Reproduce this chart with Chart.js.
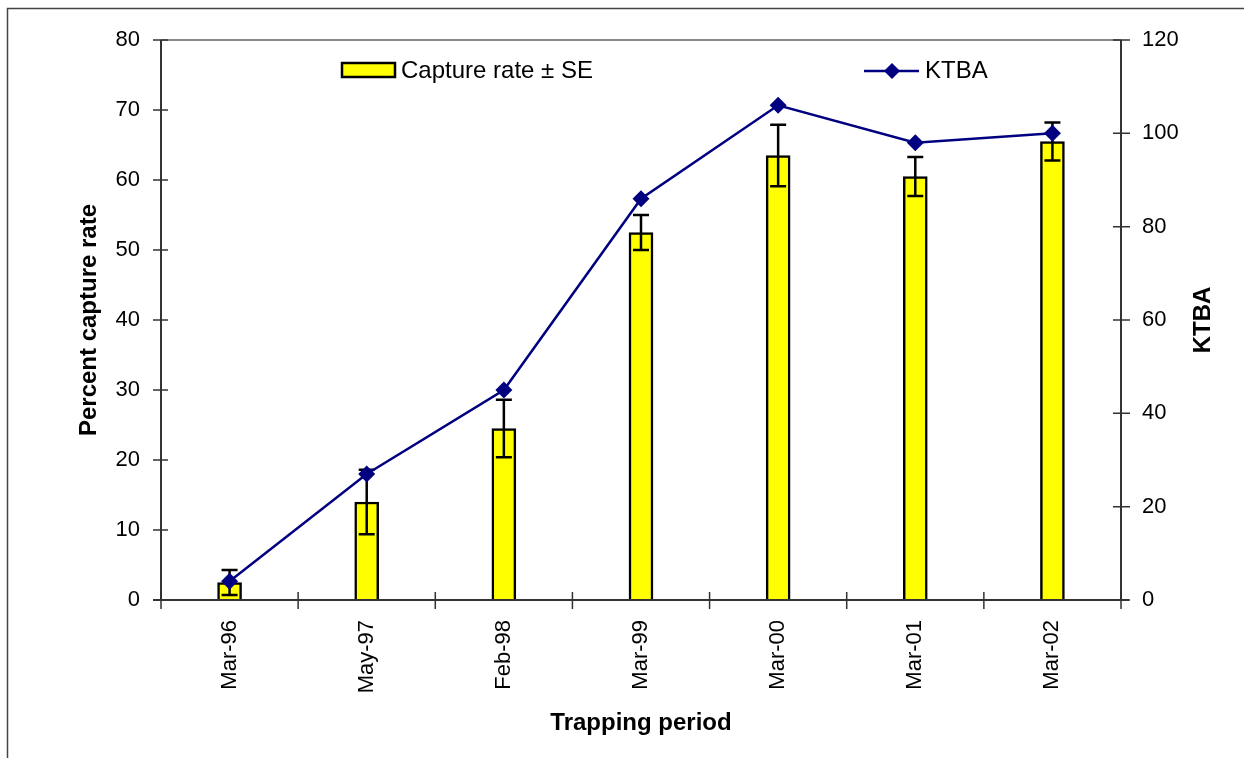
<!DOCTYPE html>
<html lang="en">
<head>
<meta charset="UTF-8">
<title>Capture rate and KTBA by trapping period</title>
<script src="https://cdn.jsdelivr.net/npm/chart.js"></script>
<style>
  body { margin: 0; background: #fff; }
  #wrap { width: 1244px; height: 758px; }
</style>
</head>
<body>
<div id="wrap"><canvas id="chart" width="1244" height="758"></canvas></div>
<script>
  // Data
  const periods = ['Mar-96', 'May-97', 'Feb-98', 'Mar-99', 'Mar-00', 'Mar-01', 'Mar-02'];
  const captureRate = [2.5, 14.0, 24.5, 52.5, 63.5, 60.5, 65.5];
  const captureSE = [1.8, 4.6, 4.1, 2.5, 4.4, 2.8, 2.7];
  const ktba = [4, 27, 45, 86, 106, 98, 100];
  const leftMax = 80, leftStep = 10;
  const rightMax = 120, rightStep = 20;

  const FONT = 'Arial, "Liberation Sans", sans-serif';
  const NAVY = '#000080';

  // error bars, axis lines, tick marks, titles and legend
  const decor = {
    id: 'decor',
    afterDatasetDraw(chart, args) {
      if (args.index !== 0) return;
      const ctx = chart.ctx, xs = chart.scales.x, ys = chart.scales.y;
      ctx.save();
      ctx.strokeStyle = '#000';
      ctx.lineWidth = 2.5;
      captureRate.forEach((v, i) => {
        const px = xs.getPixelForValue(i);
        const top = ys.getPixelForValue(v + captureSE[i]);
        const bot = ys.getPixelForValue(v - captureSE[i]);
        ctx.beginPath();
        ctx.moveTo(px, top); ctx.lineTo(px, bot);
        ctx.moveTo(px - 8, top); ctx.lineTo(px + 8, top);
        ctx.moveTo(px - 8, bot); ctx.lineTo(px + 8, bot);
        ctx.stroke();
      });
      ctx.restore();
    },
    afterDraw(chart) {
      const ctx = chart.ctx, a = chart.chartArea;
      const xs = chart.scales.x, ys = chart.scales.y, yr = chart.scales.y1;
      ctx.save();

      // outer frame (runs off the right and bottom edges)
      ctx.strokeStyle = '#444';
      ctx.lineWidth = 1.5;
      ctx.strokeRect(7.5, 8.5, 1300, 800);

      // plot top line
      ctx.strokeStyle = '#888';
      ctx.lineWidth = 2;
      ctx.beginPath();
      ctx.moveTo(a.left, a.top); ctx.lineTo(a.right, a.top);
      ctx.stroke();

      // axis lines
      ctx.strokeStyle = '#333';
      ctx.beginPath();
      ctx.moveTo(a.left, a.top); ctx.lineTo(a.left, a.bottom);
      ctx.moveTo(a.right, a.top); ctx.lineTo(a.right, a.bottom);
      ctx.moveTo(a.left - 8, a.bottom); ctx.lineTo(a.right + 8, a.bottom);
      ctx.stroke();

      // tick marks crossing the axes
      ctx.lineWidth = 1.5;
      ctx.beginPath();
      ys.ticks.forEach(t => {
        const py = ys.getPixelForValue(t.value);
        ctx.moveTo(a.left - 8, py); ctx.lineTo(a.left + 7, py);
      });
      yr.ticks.forEach(t => {
        const py = yr.getPixelForValue(t.value);
        ctx.moveTo(a.right - 8, py); ctx.lineTo(a.right + 9, py);
      });
      for (let i = 0; i <= periods.length; i++) {
        let px;
        if (i === 0) px = a.left;
        else if (i === periods.length) px = a.right;
        else px = (xs.getPixelForValue(i - 1) + xs.getPixelForValue(i)) / 2;
        ctx.moveTo(px, a.bottom - 8); ctx.lineTo(px, a.bottom + 9);
      }
      ctx.stroke();

      // axis titles
      ctx.fillStyle = '#000';
      ctx.font = 'bold 24px ' + FONT;
      ctx.textAlign = 'center';
      ctx.textBaseline = 'middle';
      ctx.fillText('Trapping period', (a.left + a.right) / 2, 723);
      ctx.save();
      ctx.translate(89, (a.top + a.bottom) / 2);
      ctx.rotate(-Math.PI / 2);
      ctx.fillText('Percent capture rate', 0, 0);
      ctx.restore();
      ctx.save();
      ctx.translate(1203, (a.top + a.bottom) / 2);
      ctx.rotate(-Math.PI / 2);
      ctx.fillText('KTBA', 0, 0);
      ctx.restore();

      // legend
      ctx.fillStyle = '#ffff00';
      ctx.fillRect(342, 63, 53, 14);
      ctx.strokeStyle = '#000';
      ctx.lineWidth = 2.5;
      ctx.strokeRect(342, 63, 53, 14);
      ctx.fillStyle = '#000';
      ctx.font = '24px ' + FONT;
      ctx.textAlign = 'left';
      ctx.fillText('Capture rate \u00b1 SE', 401, 71);

      ctx.strokeStyle = NAVY;
      ctx.lineWidth = 2.5;
      ctx.beginPath();
      ctx.moveTo(864, 71); ctx.lineTo(919, 71);
      ctx.stroke();
      ctx.fillStyle = NAVY;
      ctx.beginPath();
      ctx.moveTo(892, 63); ctx.lineTo(900, 71); ctx.lineTo(892, 79); ctx.lineTo(884, 71);
      ctx.closePath();
      ctx.fill();
      ctx.fillStyle = '#000';
      ctx.fillText('KTBA', 925, 71);

      ctx.restore();
    }
  };

  const tickFont = { family: FONT, size: 22 };

  new Chart(document.getElementById('chart'), {
    data: {
      labels: periods,
      datasets: [{
        type: 'bar',
        label: 'Capture rate \u00b1 SE',
        data: captureRate,
        yAxisID: 'y',
        backgroundColor: '#ffff00',
        borderColor: '#000',
        borderWidth: 2.5,
        barThickness: 24,
        order: 2
      }, {
        type: 'line',
        label: 'KTBA',
        data: ktba,
        yAxisID: 'y1',
        borderColor: NAVY,
        borderWidth: 2.5,
        pointStyle: 'rectRot',
        pointRadius: 8.5,
        pointBackgroundColor: NAVY,
        pointBorderColor: NAVY,
        pointBorderWidth: 0,
        tension: 0,
        order: 1
      }]
    },
    options: {
      responsive: false,
      animation: false,
      layout: { padding: { top: 40, left: 0, right: 0, bottom: 0 } },
      plugins: { legend: { display: false }, tooltip: { enabled: false } },
      scales: {
        x: {
          offset: true,
          grid: { display: false, drawTicks: false },
          border: { display: false },
          ticks: { font: tickFont, color: '#000', minRotation: 90, maxRotation: 90, padding: 20 },
          afterFit(s) { s.height = 158; }
        },
        y: {
          position: 'left',
          min: 0, max: leftMax,
          grid: { display: false, drawTicks: false },
          border: { display: false },
          ticks: { stepSize: leftStep, font: tickFont, color: '#000', padding: 21 },
          afterFit(s) { s.width = 161; }
        },
        y1: {
          position: 'right',
          min: 0, max: rightMax,
          grid: { display: false, drawTicks: false },
          border: { display: false },
          ticks: { stepSize: rightStep, font: tickFont, color: '#000', padding: 21 },
          afterFit(s) { s.width = 123; }
        }
      }
    },
    plugins: [decor]
  });
</script>
</body>
</html>
